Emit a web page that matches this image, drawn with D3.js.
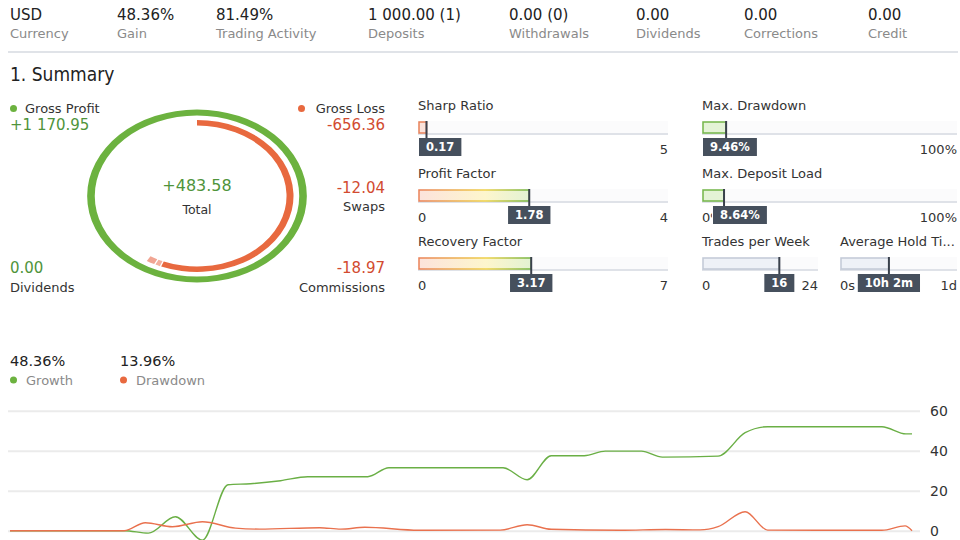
<!DOCTYPE html>
<html>
<head>
<meta charset="utf-8">
<script src="https://cdn.jsdelivr.net/npm/d3@7"></script>
<style>
body { margin: 0; background: #fff; }
svg { display: block; font-family: "DejaVu Sans", Verdana, sans-serif; }
</style>
</head>
<body>
<svg id="chart" width="960" height="540"></svg>
<script>
// ---- data ----
var statValues = ["USD", "48.36%", "81.49%", "1 000.00 (1)", "0.00 (0)", "0.00", "0.00", "0.00"];
var statNames = ["Currency", "Gain", "Trading Activity", "Deposits", "Withdrawals", "Dividends", "Corrections", "Credit"];

var grossProfit = 1170.95;
var lossParts = [656.36, 12.04, 18.97];   // gross loss, swaps, commissions
var totalText = "+483.58";

var gaugeNames = ["Sharp Ratio", "Profit Factor", "Recovery Factor", "Max. Drawdown", "Max. Deposit Load", "Trades per Week", "Average Hold Ti..."];
var gaugeValues = [0.17, 1.78, 3.17, 9.46, 8.64, 16, 10.033];
var gaugeMax = [5, 4, 7, 100, 100, 24, 24];
var gaugeLabels = ["0.17", "1.78", "3.17", "9.46%", "8.64%", "16", "10h 2m"];
var gaugeMinText = ["0", "0", "0", "0%", "0%", "0", "0s"];
var gaugeMaxText = ["5", "4", "7", "100%", "100%", "24", "1d"];

// growth / drawdown curve (day index, percent)
var growthDays   = [0, 38, 46, 55, 64, 72.5, 80, 90, 99, 119, 126, 164, 172, 180, 191, 198, 210, 217, 235.5, 244.5, 252, 290, 298, 300];
var growthValues = [0, 0, -1.2, 7, -4.7, 23, 23.5, 25, 27, 27, 31.5, 31.5, 25.5, 37.5, 37.5, 39.8, 39.8, 36.8, 37.3, 49, 52, 52, 48.4, 48.4];
var drawdownDays   = [0, 38, 45, 54, 64, 75, 83, 103, 110, 118, 136, 163, 172, 180, 203, 218, 229.5, 235.5, 244.5, 252, 290, 297.7, 300];
var drawdownValues = [0, 0, 4, 2, 4.5, 1.3, 0.8, 1.5, 0.8, 1.7, 0.2, 0.3, 3, 0.7, 0.2, 0.6, 0.4, 2, 9.5, 0.3, 0.2, 2.4, 0];
var yTicks = [0, 20, 40, 60];

// ---- layout / style ----
var statX = [10, 117, 216, 368, 509, 636, 744, 868];
var green = "#6cb23f", red = "#e8693f";
var greenText = "#4f943b", redText = "#d24b30";

var svg = d3.select("#chart");
var defs = svg.append("defs");

// header
svg.selectAll(".stat-value")
    .data(statValues)
    .enter()
    .append("text")
    .attr("class", "stat-value")
    .attr("x", function (d, i) { return statX[i]; })
    .attr("y", 20)
    .attr("font-size", 15)
    .attr("fill", "#222")
    .text(function (d) { return d; });

svg.selectAll(".stat-name")
    .data(statNames)
    .enter()
    .append("text")
    .attr("class", "stat-name")
    .attr("x", function (d, i) { return statX[i]; })
    .attr("y", 38)
    .attr("font-size", 13)
    .attr("fill", "#8a8a8a")
    .text(function (d) { return d; });

svg.append("line")
    .attr("x1", 8).attr("x2", 958)
    .attr("y1", 52).attr("y2", 52)
    .attr("stroke", "#e0e3e8")
    .attr("stroke-width", 2);

svg.append("text")
    .attr("x", 10).attr("y", 81)
    .attr("font-size", 19)
    .style("font-family", "'DejaVu Sans Condensed', 'Liberation Sans Narrow', sans-serif")
    .style("font-stretch", "condensed")
    .attr("fill", "#222")
    .text("1. Summary");

// donut (stretched horizontally like the source)
var donut = svg.append("g").attr("transform", "translate(197,196) scale(1.27,1)");
var angle = d3.scaleLinear().domain([0, grossProfit]).range([0, 2 * Math.PI]);
var arc = d3.arc();

donut.append("path")
    .attr("d", arc({ innerRadius: 80.5, outerRadius: 86.5, startAngle: 0, endAngle: 2 * Math.PI }))
    .attr("fill", green);

var lossColors = [red, "#f3b09e", "#f1a593"];
var cum = 0;
lossParts.forEach(function (v, i) {
    var start = angle(cum) + (i ? 0.015 : 0);
    cum += v;
    donut.append("path")
        .attr("d", arc({ innerRadius: 70.5, outerRadius: 76, startAngle: start, endAngle: angle(cum) }))
        .attr("fill", lossColors[i]);
});

svg.append("text").attr("x", 197).attr("y", 191).attr("text-anchor", "middle")
    .attr("font-size", 16).attr("fill", greenText).text(totalText);
svg.append("text").attr("x", 197).attr("y", 214).attr("text-anchor", "middle")
    .attr("font-size", 12.5).attr("fill", "#333").text("Total");

// donut legend texts
var sideText = [
    { x: 25, y: 113, a: "start", s: 13, c: "#333", t: "Gross Profit" },
    { x: 10, y: 130, a: "start", s: 15, c: greenText, t: "+1 170.95" },
    { x: 385, y: 113, a: "end", s: 13, c: "#333", t: "Gross Loss" },
    { x: 385, y: 130, a: "end", s: 15, c: redText, t: "-" + lossParts[0].toFixed(2) },
    { x: 385, y: 193, a: "end", s: 15, c: redText, t: "-" + lossParts[1].toFixed(2) },
    { x: 385, y: 211, a: "end", s: 13, c: "#333", t: "Swaps" },
    { x: 10, y: 273, a: "start", s: 15, c: greenText, t: "0.00" },
    { x: 10, y: 292, a: "start", s: 13, c: "#333", t: "Dividends" },
    { x: 385, y: 273, a: "end", s: 15, c: redText, t: "-" + lossParts[2].toFixed(2) },
    { x: 385, y: 292, a: "end", s: 13, c: "#333", t: "Commissions" }
];
svg.selectAll(".side-text")
    .data(sideText)
    .enter()
    .append("text")
    .attr("x", function (d) { return d.x; })
    .attr("y", function (d) { return d.y; })
    .attr("text-anchor", function (d) { return d.a; })
    .attr("font-size", function (d) { return d.s; })
    .attr("fill", function (d) { return d.c; })
    .text(function (d) { return d.t; });

svg.append("circle").attr("cx", 13.5).attr("cy", 108.5).attr("r", 3.5).attr("fill", green);
svg.append("circle").attr("cx", 301.5).attr("cy", 108.5).attr("r", 3.5).attr("fill", red);

// gauges
function grad(id, stops) {
    var g = defs.append("linearGradient").attr("id", id);
    stops.forEach(function (s) {
        g.append("stop").attr("offset", s[0]).attr("stop-color", s[1]);
    });
}
grad("scoreFill", [[0, "#fce3dc"], [0.6, "#fdf6cd"], [1, "#e3f2d3"]]);
grad("scoreStroke", [[0, "#eb8359"], [0.6, "#efd24a"], [1, "#72b545"]]);

var kindStyle = {
    low:   { fill: "#fbe2da", stroke: "#e9825a" },
    score: { fill: "url(#scoreFill)", stroke: "url(#scoreStroke)" },
    good:  { fill: "#e4f3d6", stroke: "#74b648" },
    plain: { fill: "#eef1f7", stroke: "#c2c9d6" }
};
var gaugeLayout = [
    { x: 418, y: 110, w: 250, kind: "low", dx: 0 },
    { x: 418, y: 178, w: 250, kind: "score", dx: 0 },
    { x: 418, y: 246, w: 250, kind: "score", dx: 0 },
    { x: 702, y: 110, w: 255, kind: "good", dx: 0 },
    { x: 702, y: 178, w: 255, kind: "good", dx: 10 },
    { x: 702, y: 246, w: 116, kind: "plain", dx: 0 },
    { x: 840, y: 246, w: 117, kind: "plain", dx: 0 }
];

gaugeNames.forEach(function (name, i) {
    var L = gaugeLayout[i], st = kindStyle[L.kind];
    var g = svg.append("g");
    var scale = d3.scaleLinear().domain([0, gaugeMax[i]]).range([L.x, L.x + L.w]);
    var barTop = L.y + 12, barH = 12, boxTop = barTop + barH + 4;
    var mx = scale(gaugeValues[i]);

    g.append("text").attr("x", L.x).attr("y", L.y).attr("font-size", 13).attr("fill", "#333").text(name);

    // track
    g.append("rect").attr("x", L.x).attr("y", barTop - 1).attr("width", L.w).attr("height", barH + 1)
        .attr("fill", "#fbfbfc");
    g.append("line").attr("x1", L.x).attr("x2", L.x + L.w).attr("y1", barTop + barH).attr("y2", barTop + barH)
        .attr("stroke", "#dfe2e8").attr("stroke-width", 2);

    // value bar
    g.append("rect")
        .attr("x", L.x + 1).attr("y", barTop)
        .attr("width", Math.max(mx - L.x - 1, 2)).attr("height", barH - 1)
        .attr("fill", st.fill).attr("stroke", st.stroke).attr("stroke-width", 1.5);

    // value label box size
    var box = g.append("g");
    var rect = box.append("rect");
    var txt = box.append("text")
        .attr("font-size", 11.5).attr("font-weight", "bold").attr("fill", "#fff")
        .attr("text-anchor", "middle").text(gaugeLabels[i]);
    var tw = txt.node().getComputedTextLength() + 14;
    var bx = Math.max(mx - tw / 2, L.x + 1) + L.dx;

    // min label: only the part left of the box shows, like the source
    if (bx > L.x + 6) {
        var clipId = "minclip" + i;
        defs.append("clipPath").attr("id", clipId)
            .append("rect").attr("x", L.x - 2).attr("y", L.y + 30).attr("width", bx - L.x + 1).attr("height", 20);
        g.insert("text", function () { return box.node(); })
            .attr("x", L.x).attr("y", L.y + 44).attr("font-size", 13).attr("fill", "#333")
            .attr("clip-path", "url(#" + clipId + ")")
            .text(gaugeMinText[i]);
    }
    g.insert("text", function () { return box.node(); })
        .attr("x", L.x + L.w).attr("y", L.y + 44).attr("text-anchor", "end")
        .attr("font-size", 13).attr("fill", "#333").text(gaugeMaxText[i]);

    // marker
    g.insert("line", function () { return box.node(); })
        .attr("x1", mx).attr("x2", mx).attr("y1", barTop - 1).attr("y2", boxTop + 2)
        .attr("stroke", "#3a414c").attr("stroke-width", 2);

    rect.attr("x", bx).attr("y", boxTop).attr("width", tw).attr("height", 18).attr("fill", "#46505d");
    txt.attr("x", bx + tw / 2).attr("y", boxTop + 13);
});

// growth legend
svg.append("text").attr("x", 10).attr("y", 366).attr("font-size", 14.5).attr("fill", "#222").text(statValues[1]);
svg.append("text").attr("x", 120).attr("y", 366).attr("font-size", 14.5).attr("fill", "#222").text("13.96%");
svg.append("circle").attr("cx", 13.5).attr("cy", 380).attr("r", 3.5).attr("fill", green);
svg.append("circle").attr("cx", 123.5).attr("cy", 380).attr("r", 3.5).attr("fill", red);
svg.append("text").attr("x", 26).attr("y", 385).attr("font-size", 13).attr("fill", "#8a8a8a").text("Growth");
svg.append("text").attr("x", 136).attr("y", 385).attr("font-size", 13).attr("fill", "#8a8a8a").text("Drawdown");

// line chart
var xScale = d3.scaleLinear().domain([0, 300]).range([10, 912]);
var yScale = d3.scaleLinear().domain([0, 60]).range([530.7, 410.7]);

var yAxis = svg.append("g")
    .attr("transform", "translate(920,0)")
    .call(d3.axisRight(yScale).tickValues(yTicks).tickSize(-912).tickPadding(10));
yAxis.select(".domain").remove();
yAxis.selectAll("line").attr("stroke", "#ebebeb").attr("stroke-width", 2);
yAxis.selectAll("text").attr("font-size", 14).attr("fill", "#333")
    .style("font-family", "'DejaVu Sans', Verdana, sans-serif");

var line = d3.line()
    .x(function (d) { return xScale(d[0]); })
    .y(function (d) { return yScale(d[1]); })
    .curve(d3.curveMonotoneX);

svg.append("path")
    .datum(d3.zip(growthDays, growthValues))
    .attr("fill", "none")
    .attr("stroke", "#6aaf45")
    .attr("stroke-width", 1.4)
    .attr("d", line);

svg.append("path")
    .datum(d3.zip(drawdownDays, drawdownValues))
    .attr("fill", "none")
    .attr("stroke", "#e9714e")
    .attr("stroke-width", 1.4)
    .attr("d", line);
</script>
</body>
</html>
